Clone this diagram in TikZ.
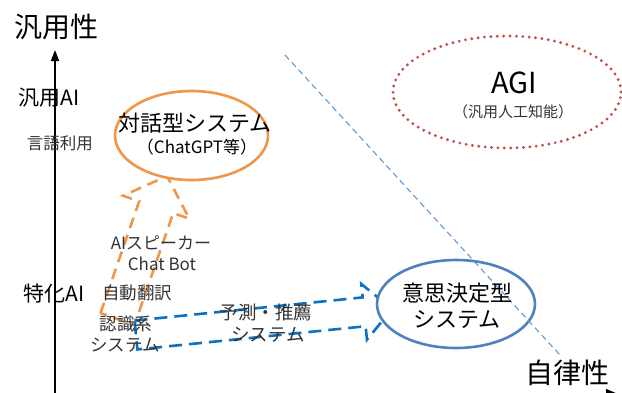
\documentclass[tikz,border=0pt]{standalone}
\usepackage{fontspec}
\setmainfont{Noto Sans CJK JP}
\usetikzlibrary{calc,shapes.geometric,arrows.meta}
\definecolor{orA}{HTML}{F0964A}
\definecolor{blA}{HTML}{0A72C2}
\definecolor{blE}{HTML}{4F81BD}
\definecolor{blD}{HTML}{5B9BD5}
\definecolor{rdD}{HTML}{C0504D}
\definecolor{txG}{HTML}{333333}
\newcommand\blockarr[6]{%
  \coordinate (hb) at ($(#2)!#5!(#1)$);
  \draw[#6] ($(#1)!#3!90:(#2)$) -- ($(hb)!#3!90:(#2)$) -- ($(hb)!#4!90:(#2)$) -- (#2)
    -- ($(hb)!#4!-90:(#2)$) -- ($(hb)!#3!-90:(#2)$) -- ($(#1)!#3!-90:(#2)$) -- cycle;
}
\begin{document}
\begin{tikzpicture}[x=1pt,y=-1pt,
  fs/.style={font=\fontsize{#1}{#1}\selectfont, inner sep=0pt},
  lbl/.style={fs=#1, text=txG},
  ell/.style={ellipse, draw, fill=white, inner sep=0pt},
  oarr/.style={draw=orA, line width=2.6pt, dash pattern=on 11pt off 7pt, line join=miter},
  barr/.style={draw=blA, line width=2.6pt, dash pattern=on 13pt off 7pt, line join=miter},
  axis/.style={line width=1.4pt, black}
]
\useasboundingbox (0,0) rectangle (622,392);
\clip (0,0) rectangle (622,392);

% axes
\coordinate (ybot) at (55,400);
\coordinate (ytop) at (55,50);
\draw[axis,-{Triangle[length=11pt,width=8pt]}] (ybot) -- (ytop);
\coordinate (xl) at (40,394);
\coordinate (xr) at (618,394);
\draw[axis,-{Triangle[length=12pt,width=10pt]}] (xl) -- (xr);

% block arrows
\coordinate (otail) at (117.5,319);
\coordinate (otip) at (167,176);
\blockarr{otail}{otip}{18pt}{35pt}{33pt}{oarr}
\coordinate (btail) at (136,335);
\coordinate (btip) at (392,309);
\blockarr{btail}{btip}{14.5pt}{28pt}{28pt}{barr}

% ellipses
\node[ell, draw=orA, line width=2.6pt, minimum width=153pt, minimum height=89pt] (dlg) at (191.5,135.5) {};
\node[ell, draw=blE, line width=2.6pt, minimum width=158pt, minimum height=88pt] (dec) at (456,304) {};
\node[ellipse, draw=rdD, line width=3.2pt, line cap=round, dash pattern=on 0pt off 6.4pt, inner sep=0pt, minimum width=228pt, minimum height=112pt] (agi) at (507,92) {};

% diagonal boundary
\coordinate (d1) at (285,55);
\coordinate (d2) at (560,355);
\draw[blD, line width=1.1pt, dash pattern=on 6pt off 4pt] (d1) -- (d2);

% axis labels
\node[fs=28] (ylab) at (57,27) {汎用性};
\node[fs=28] (xlab) at (567,373) {自律性};
\node[fs=21] (gen) at (49,98) {汎用AI};
\node[fs=21] (spe) at (54,294) {特化AI};
\node[lbl=16.5] (lang) at (60,143) {言語利用};

% ellipse texts
\node[fs=22] (dlg1) at (195,123) {対話型システム};
\node[fs=17] (dlg2) at (197,147) {（ChatGPT等）};
\node[fs=22] (dec1) at (457,293) {意思決定型};
\node[fs=22] (dec2) at (457,320) {システム};
\node[fs=29] (agi1) at (514,83) {AGI};
\node[lbl=15] (agi2) at (513,112) {（汎用人工知能）};

% small labels
\node[lbl=17] (spk) at (161,243) {AIスピーカー};
\node[lbl=17] (bot) at (162,264) {Chat Bot};
\node[lbl=17.5] (tr) at (137,293) {自動翻訳};
\node[lbl=17.5] (rec1) at (126,324) {認識系};
\node[lbl=17.5] (rec2) at (125,345) {システム};
\node[lbl=18.5] (pr1) at (266,312) {予測・推薦};
\node[lbl=18.5] (pr2) at (268,335) {システム};
\end{tikzpicture}
\end{document}
